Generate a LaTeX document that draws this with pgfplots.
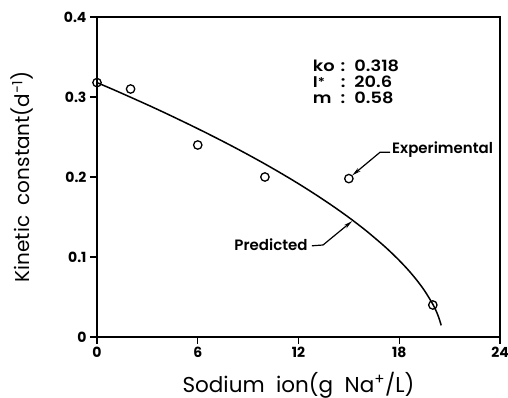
\documentclass[border=0pt]{standalone}
\usepackage{fontspec}
\setmainfont{Poppins}
\newfontfamily\pmed{Poppins SemiBold}
\newfontfamily\pwide{Poppins SemiBold}[FakeStretch=1.15]
\usepackage{pgfplots}
\pgfplotsset{compat=1.18}
\usetikzlibrary{arrows.meta}
\begin{document}
\begin{tikzpicture}
\useasboundingbox (-97pt,-61pt) rectangle (411pt,337pt);
\begin{axis}[
  at={(0pt,0pt)}, anchor=south west,
  scale only axis, width=403pt, height=320pt,
  xmin=0, xmax=24, ymin=0, ymax=0.4,
  xtick={0,6,12,18,24}, ytick={0,0.1,0.2,0.3,0.4},
  tick pos=left, tick align=outside,
  major tick length=7pt,
  axis line style={line width=1.5pt},
  every tick/.style={line width=1.4pt, black},
  /pgf/number format/assume math mode=true,
  ticklabel style={font=\fontsize{14}{14}\selectfont\bfseries},
  yticklabel style={/pgf/number format/fixed, /pgf/number format/precision=1},
  xlabel={Sodium\ \ ion(g\ \ Na\textsuperscript{+}/L)},
  ylabel={Kinetic\ \ constant(d\textsuperscript{−1})},
  ylabel style={font=\fontsize{20}{20}\selectfont, at={([xshift=-67pt]axis description cs:0,0.5)}, anchor=base},
  xlabel style={font=\fontsize{21.5}{21.5}\selectfont, at={([yshift=-55pt]axis description cs:0.5,0)}, anchor=base},
  clip=false,
]
\addplot[black, line width=1.5pt, smooth] coordinates {
(0,0.318) (1,0.3090) (2,0.2997) (3,0.2903) (4,0.2806) (5,0.2706) (6,0.2604)
(7,0.2499) (8,0.2391) (9,0.2279) (10,0.2163) (11,0.2042) (12,0.1916)
(13,0.1783) (14,0.1643) (15,0.1494) (16,0.1333) (17,0.1156) (17.5,0.1060)
(18,0.0957) (18.5,0.0846) (19,0.0722) (19.5,0.0581) (20,0.0409) (20.3,0.0274) (20.5,0.0145)
};
\addplot[only marks, mark=o, mark size=4.2pt, mark options={line width=1.3pt, black}] coordinates {
(0,0.318) (2,0.31) (6,0.24) (10,0.20) (15,0.198) (20,0.04)
};
\node[anchor=north west, font=\fontsize{15.5}{17}\selectfont\pwide, inner sep=0pt] at (axis cs:12.85,0.3465) {%
\begin{tabular}{@{}l@{\hspace{6pt}}c@{\hspace{9pt}}l@{}}
ko & : & 0.318\\[-1pt]
I{\fontsize{12}{12}\selectfont\raisebox{0.2ex}{*}} & : & 20.6\\[-1pt]
m & : & 0.58
\end{tabular}};
\node[anchor=west, font=\fontsize{15}{15}\selectfont\pmed, inner sep=0pt] at (axis cs:17.57,0.234) {Experimental};
\draw[line width=1.2pt, -{Stealth[length=9pt,width=4pt]}] (axis cs:17.45,0.231) -- (axis cs:16.86,0.231) -- (axis cs:15.2,0.202);
\node[anchor=east, font=\fontsize{15}{15}\selectfont\pmed, inner sep=0pt] at (axis cs:12.55,0.116) {Predicted};
\draw[line width=1.2pt, -{Stealth[length=9pt,width=4pt]}] (axis cs:12.8,0.114) -- (axis cs:13.46,0.115) -- (axis cs:15.2,0.145);
\end{axis}
\end{tikzpicture}
\end{document}
